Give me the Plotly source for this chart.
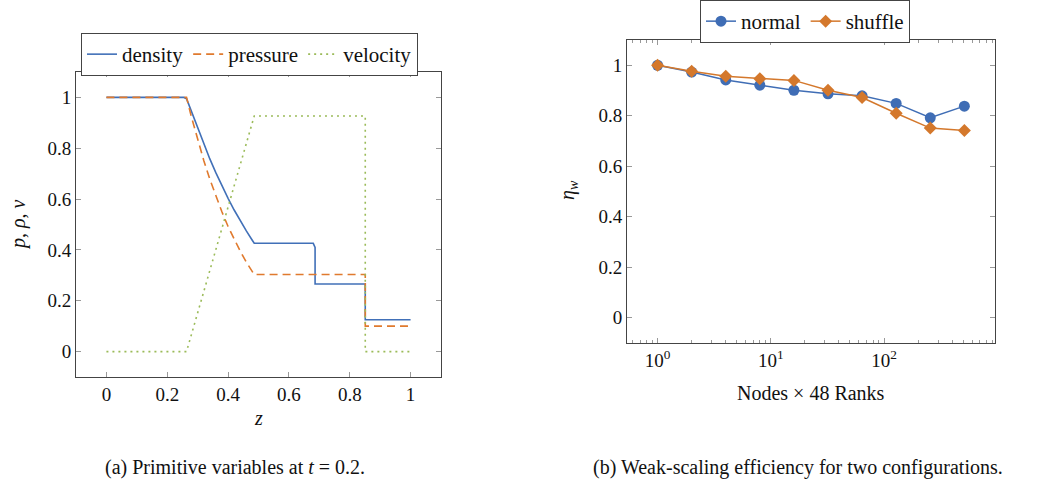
import plotly.graph_objects as go

# ---------- data: (a) primitive variables ----------
z_density = [0.0, 0.255, 0.2634, 0.28, 0.30, 0.32, 0.34, 0.36, 0.38, 0.40, 0.42, 0.44, 0.46, 0.48, 0.486,
             0.680, 0.684, 0.686, 0.686, 0.851, 0.851, 1.0]
density = [1.0, 1.0, 0.995, 0.943, 0.878, 0.816, 0.758, 0.703, 0.651, 0.603, 0.557, 0.515, 0.475, 0.437, 0.426,
           0.426, 0.415, 0.41, 0.266, 0.266, 0.125, 0.125]

z_pressure = [0.0, 0.2634, 0.28, 0.30, 0.32, 0.34, 0.36, 0.38, 0.40, 0.42, 0.44, 0.46, 0.48, 0.486,
              0.851, 0.851, 1.0]
pressure = [1.0, 1.0, 0.921, 0.833, 0.752, 0.678, 0.610, 0.549, 0.492, 0.441, 0.395, 0.352, 0.314, 0.303,
            0.303, 0.1, 0.1]

z_velocity = [0.0, 0.2634, 0.486, 0.851, 0.851, 1.0]
velocity = [0.0, 0.0, 0.927, 0.927, 0.0, 0.0]

# ---------- data: (b) weak scaling ----------
nodes = [1, 2, 4, 8, 16, 32, 64, 128, 256, 512]
eff_normal = [1.0, 0.973, 0.942, 0.921, 0.901, 0.887, 0.879, 0.849, 0.792, 0.838]
eff_shuffle = [1.0, 0.976, 0.956, 0.947, 0.940, 0.901, 0.872, 0.810, 0.751, 0.742]

lin_ticks = [0, 0.2, 0.4, 0.6, 0.8, 1]
lin_labels = ["0", "0.2", "0.4", "0.6", "0.8", "1"]
log_ticks = [1, 10, 100]
log_labels = ["10<sup>0</sup>", "10<sup>1</sup>", "10<sup>2</sup>"]
log_minor = [0.6, 0.7, 0.8, 0.9, 2, 3, 4, 5, 6, 7, 8, 9, 20, 30, 40, 50, 60, 70, 80, 90,
             200, 300, 400, 500, 600, 700, 800, 900]

FONT = "Liberation Serif"
BLUE = "#4170b8"
ORANGE = "#e07a2e"
GREEN = "#9bbb59"
BLUE2 = "#3f6db5"
ORANGE2 = "#d4782c"

fig = go.Figure()

fig.add_trace(go.Scatter(x=z_density, y=density, mode="lines", name="density",
                         line=dict(color=BLUE, width=1.6), xaxis="x", yaxis="y", legend="legend"))
fig.add_trace(go.Scatter(x=z_pressure, y=pressure, mode="lines", name="pressure",
                         line=dict(color=ORANGE, width=1.6, dash="8px,5px"), xaxis="x", yaxis="y", legend="legend"))
fig.add_trace(go.Scatter(x=z_velocity, y=velocity, mode="lines", name="velocity",
                         line=dict(color=GREEN, width=1.6, dash="2px,4px"), xaxis="x", yaxis="y", legend="legend"))

fig.add_trace(go.Scatter(x=nodes, y=eff_normal, mode="lines+markers", name="normal",
                         line=dict(color=BLUE2, width=1.5),
                         marker=dict(symbol="circle", size=11, color=BLUE2),
                         xaxis="x2", yaxis="y2", legend="legend2"))
fig.add_trace(go.Scatter(x=nodes, y=eff_shuffle, mode="lines+markers", name="shuffle",
                         line=dict(color=ORANGE2, width=1.5),
                         marker=dict(symbol="diamond", size=10, color=ORANGE2),
                         xaxis="x2", yaxis="y2", legend="legend2"))

W, H = 1037, 486
def px(x): return x / W
def py(y): return 1 - y / H

axis_common = dict(showline=True, linecolor="#444", linewidth=1, mirror="allticks",
                   ticks="inside", ticklen=5, tickcolor="#999", showgrid=False, zeroline=False,
                   tickfont=dict(family=FONT, size=19, color="#111"))

fig.update_layout(
    width=W, height=H, margin=dict(l=0, r=0, t=0, b=0),
    paper_bgcolor="white", plot_bgcolor="white",
    font=dict(family=FONT, size=19, color="#111"),
    xaxis=dict(domain=[px(76), px(441)], range=[-0.1, 1.1], tickvals=lin_ticks, ticktext=lin_labels,
               anchor="y", **axis_common),
    yaxis=dict(domain=[py(377), py(72)], range=[-0.1, 1.1], tickvals=lin_ticks, ticktext=lin_labels,
               anchor="x", **axis_common),
    xaxis2=dict(domain=[px(627), px(995)], type="log", range=[-0.27, 2.98],
                tickvals=log_ticks, ticktext=log_labels, anchor="y2",
                minor=dict(tickvals=log_minor, ticks="inside", ticklen=3, tickcolor="#999", showgrid=False),
                **axis_common),
    yaxis2=dict(domain=[py(343), py(40)], range=[-0.1, 1.1], tickvals=lin_ticks, ticktext=lin_labels,
                anchor="x2", **axis_common),
    legend=dict(orientation="h", x=px(81), y=py(33), xanchor="left", yanchor="top",
                bordercolor="#444", borderwidth=1, bgcolor="white", itemwidth=30,
                font=dict(family=FONT, size=21, color="#111"), tracegroupgap=0),
    legend2=dict(orientation="h", x=px(700), y=py(0), xanchor="left", yanchor="top",
                 bordercolor="#444", borderwidth=1, bgcolor="white", itemwidth=30,
                 font=dict(family=FONT, size=21, color="#111"), tracegroupgap=0),
    showlegend=True,
)

ann = [
    dict(text="<i>p</i>, <i>ρ</i>, <i>v</i>", x=px(18), y=py(225), textangle=-90),
    dict(text="<i>z</i>", x=px(258), y=py(418)),
    dict(text="<i>η</i><sub><i>w</i></sub>", x=px(568), y=py(190), textangle=-90),
    dict(text="Nodes × 48 Ranks", x=px(811), y=py(393)),
    dict(text="(a) Primitive variables at <i>t</i> = 0.2.", x=px(235), y=py(467)),
    dict(text="(b) Weak-scaling efficiency for two configurations.", x=px(798), y=py(467)),
]
for a in ann:
    fig.add_annotation(xref="paper", yref="paper", showarrow=False, xanchor="center", yanchor="middle",
                       font=dict(family=FONT, size=20, color="#111"), **a)

fig.write_html("out.html")
